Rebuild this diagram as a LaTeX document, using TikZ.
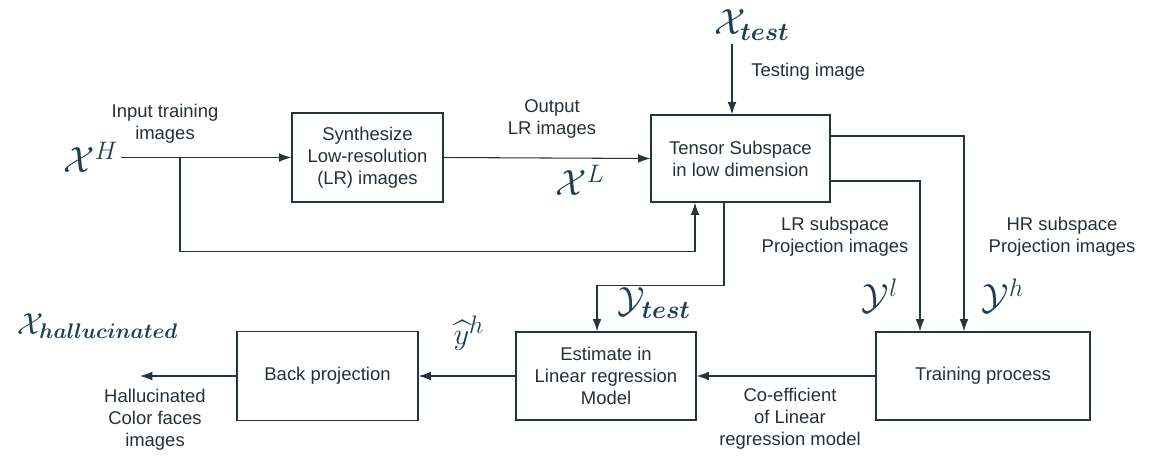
\documentclass[tikz,border=0pt]{standalone}
\usepackage{amsmath}
\usepackage{amssymb}
\usepackage{bm}
\usepackage{fontspec}
\setmainfont{Liberation Sans}
\usetikzlibrary{arrows.meta,positioning,calc}

\definecolor{linecol}{RGB}{40,52,60}
\definecolor{textcol}{RGB}{38,48,56}
\definecolor{mathcol}{RGB}{28,62,86}

\begin{document}
\begin{tikzpicture}[x=0.02cm,y=-0.02cm,>={Latex[length=7pt,width=5pt]},line width=0.6pt,draw=linecol,
	block/.style={draw=linecol,rectangle,align=center,text=textcol,line width=0.8pt,font=\fontsize{10.5}{12.5}\selectfont},
	lbl/.style={align=center,text=textcol,font=\fontsize{10.5}{12.5}\selectfont},
	sym/.style={text=mathcol,inner sep=1pt,font=\fontsize{20}{20}\selectfont}]
	\useasboundingbox (0,0) rectangle (1149,457);

	% blocks
	\node[block,minimum width=3.02cm,minimum height=1.78cm] (synth) at (367.5,157.5) {Synthesize\\Low-resolution\\(LR) images};
	\node[block,minimum width=3.58cm,minimum height=1.74cm] (tensor) at (740.5,158.5) {Tensor Subspace\\in low dimension};
	\node[block,minimum width=3.62cm,minimum height=1.78cm] (backproj) at (327.5,376) {Back projection};
	\node[block,minimum width=3.6cm,minimum height=1.76cm] (estimate) at (606,376) {Estimate in\\Linear regression\\Model};
	\node[block,minimum width=4.28cm,minimum height=1.76cm] (train) at (983,376) {Training process};

	% symbols
	\node[sym] (xh) at (91,157.5) {$\mathcal{X}^H$};
	\node[sym] (xl) at (580,180) {$\mathcal{X}^L$};
	\node[sym,anchor=west] (xtest) at (712,25) {$\mathcal{X}_{\bm{test}}$};
	\node[sym] (yl) at (880,296) {$\mathcal{Y}^l$};
	\node[sym] (yh) at (1003,296) {$\mathcal{Y}^h$};
	\node[sym] (ytest) at (654,303) {$\mathcal{Y}_{\bm{test}}$};
	\node[sym,font=\fontsize{19}{19}\selectfont] (yhat) at (469,333) {$\widehat{y}^h$};
	\node[sym,font=\fontsize{18.5}{18.5}\selectfont] (xhall) at (98,326) {$\mathcal{X}_{\bm{hallucinated}}$};

	% labels
	\node[lbl] (inlbl) at (165,124) {Input training\\images};
	\node[lbl] (outlbl) at (552,119) {Output\\LR images};
	\node[lbl,anchor=west] (testlbl) at (745,72) {Testing image};
	\node[lbl] (lrlbl) at (835,237) {LR subspace\\Projection images};
	\node[lbl] (hrlbl) at (1062,237) {HR subspace\\Projection images};
	\node[lbl] (coeflbl) at (790,419) {Co-efficient\\of Linear\\regression model};
	\node[lbl] (hall) at (155,420) {Hallucinated\\Color faces\\images};

	\coordinate (split) at (180,157.5);
	\coordinate (testin) at ($(tensor.north)+(-8.5,-70)$);
	\coordinate (hallout) at (140,376);

	% connectors
	\draw[->] (xh.east) -- (synth.west);
	\draw[->] (synth.east) -- (tensor.west);
	\draw[->] (split) |- ($(tensor.south)+(-45.5,49)$) -- ($(tensor.south)+(-45.5,0)$);
	\draw[->] (testin) -- ($(tensor.north)+(-8.5,0)$);
	\draw[->] ($(tensor.east)+(0,-22.5)$) -| ($(train.north)+(-19,0)$);
	\draw[->] ($(tensor.east)+(0,22.5)$) -| ($(train.north)+(-63,0)$);
	\draw[->] ($(tensor.south)+(-16.5,0)$) -- ++(0,83) -| ($(estimate.north)+(-9,0)$);
	\draw[->] (train.west) -- (estimate.east);
	\draw[->] (estimate.west) -- (backproj.east);
	\draw[->] (backproj.west) -- (hallout);
\end{tikzpicture}
\end{document}
